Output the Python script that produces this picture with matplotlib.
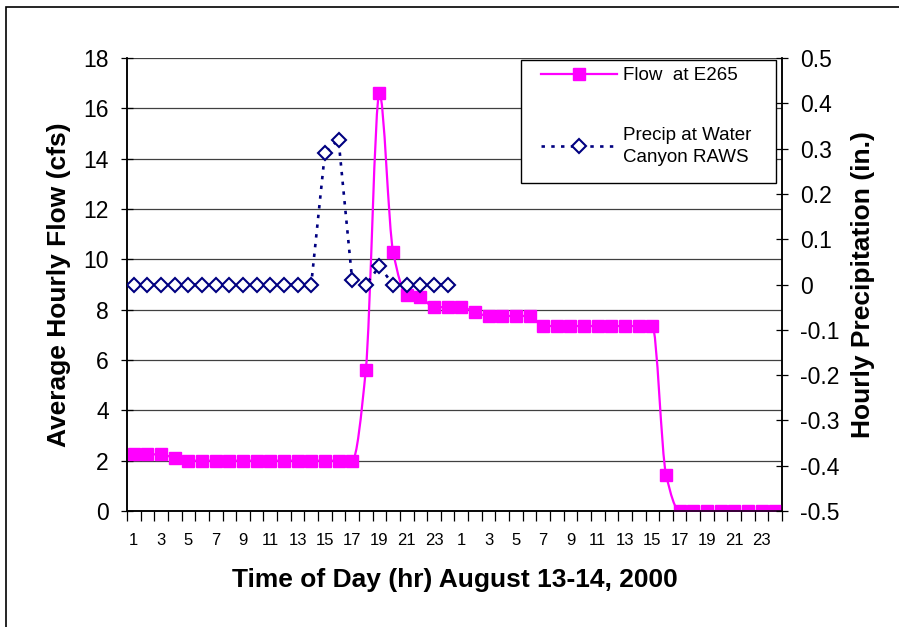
import matplotlib
matplotlib.use("Agg")
from matplotlib import pyplot as plt
from matplotlib.path import Path
from matplotlib.patches import PathPatch, Rectangle
from matplotlib.lines import Line2D

plt.rcParams['font.family'] = ['Liberation Sans', 'DejaVu Sans']

# hours of Aug 13 then Aug 14
hours = list(range(1, 25)) + list(range(1, 25))

# average hourly flow at E265 (cfs), one value per hour over both days
flow = [2.25, 2.25, 2.25, 2.1,
        2.0, 2.0, 2.0, 2.0, 2.0, 2.0, 2.0, 2.0, 2.0, 2.0, 2.0, 2.0, 2.0,
        5.6, 16.6, 10.3, 8.6, 8.5, 8.1, 8.1, 8.1, 7.9,
        7.75, 7.75, 7.75, 7.75,
        7.35, 7.35, 7.35, 7.35, 7.35, 7.35, 7.35, 7.35, 7.35,
        1.45, 0, 0, 0, 0, 0, 0, 0, 0]

# hourly precipitation at Water Canyon RAWS (in.), first day only
precip = [0, 0, 0, 0, 0, 0, 0, 0, 0, 0, 0, 0, 0, 0,
          0.29, 0.32, 0.01, 0, 0.04, 0, 0, 0, 0, 0]

x_flow = list(range(1, len(flow) + 1))
x_precip = list(range(1, len(precip) + 1))

FLOW_C = '#FF00FF'
PRECIP_C = '#000080'
DOTS = (0, (1.3, 2.4))

W, H = 899, 627
fig = plt.figure(figsize=(W / 100, H / 100), dpi=100)
ax = fig.add_axes([127/W, 1 - 511/H, 655/W, 453/H])
ax2 = ax.twinx()

# frame around the chart area
fig.patches.append(Rectangle((6/W, -0.1), 1.2, (1 - 7/H) + 0.1,
                             transform=fig.transFigure, fill=False,
                             edgecolor='black', lw=1.2))

# smoothed flow line: cubic bezier through the points, monotone tangents
n = len(flow)
sec = [flow[i + 1] - flow[i] for i in range(n - 1)]
tang = [sec[0]]
for i in range(1, n - 1):
    a, b = sec[i - 1], sec[i]
    tang.append(0.0 if a * b <= 0 else 2.0 / (1.0 / a + 1.0 / b))
tang.append(sec[-1])
verts = [(x_flow[0], flow[0])]
codes = [Path.MOVETO]
for i in range(n - 1):
    verts += [(x_flow[i] + 1/3, flow[i] + tang[i] / 3),
              (x_flow[i + 1] - 1/3, flow[i + 1] - tang[i + 1] / 3),
              (x_flow[i + 1], flow[i + 1])]
    codes += [Path.CURVE4] * 3
ax.add_patch(PathPatch(Path(verts, codes), facecolor='none',
                       edgecolor=FLOW_C, lw=1.6, zorder=3))
ax.plot(x_flow, flow, ls='none', marker='s', ms=8, color=FLOW_C, zorder=4)

ax2.plot(x_precip, precip, color=PRECIP_C, ls=DOTS, lw=1.9,
         marker='D', ms=7, mfc='white', mec=PRECIP_C, mew=1.5, zorder=3)

ax.set_xlim(0.5, len(flow) + 0.5)
ax.set_ylim(0, 18)
ax.set_yticks(range(0, 19, 2))
ax2.set_ylim(-0.5, 0.5)
p_ticks = [round(-0.5 + 0.1 * k, 1) for k in range(11)]
ax2.set_yticks(p_ticks)
ax2.set_yticklabels(['%g' % t if t != 0 else '0' for t in p_ticks])

ax.grid(True, axis='y', color='#404040', lw=0.9)
ax.set_axisbelow(True)

# category ticks between hours, labels every other hour
ax.set_xticks(x_flow[::2])
ax.set_xticklabels([str(h) for h in hours[::2]], fontsize=12)
ax.set_xticks([k + 0.5 for k in range(0, len(flow) + 1)], minor=True)
ax.tick_params(axis='x', which='major', length=0, pad=16)
ax.tick_params(axis='x', which='minor', length=7, direction='out', width=0.9)
ax.tick_params(axis='y', labelsize=16.5, direction='inout', length=8, width=0.9, pad=9)
ax2.tick_params(axis='y', labelsize=16.5, direction='inout', length=8, width=0.9, pad=9)

for a in (ax, ax2):
    a.spines['top'].set_visible(False)
    for s in ('left', 'right', 'bottom'):
        a.spines[s].set_linewidth(1.1)

ax.set_xlabel('Time of Day (hr) August 13-14, 2000', fontsize=19,
              fontweight='bold', labelpad=14)
ax.set_ylabel('Average Hourly Flow (cfs)', fontsize=19, fontweight='bold', labelpad=9)
ax2.set_ylabel('Hourly Precipitation (in.)', fontsize=19, fontweight='bold', labelpad=8)

# legend box drawn as its own rectangle, entries placed inside it
box = Rectangle((521/W, 1 - 183/H), 255/W, 123/H, transform=fig.transFigure,
                facecolor='white', edgecolor='black', lw=1.0, zorder=5,
                clip_on=False)
ax2.add_artist(box)
handles = [Line2D([], [], color=FLOW_C, lw=1.6, marker='s', ms=8),
           Line2D([], [], color=PRECIP_C, ls=DOTS, lw=1.9, marker='D',
                  ms=7, mfc='white', mec=PRECIP_C, mew=1.5)]
leg = ax2.legend(handles, ['Flow  at E265', 'Precip at Water\nCanyon RAWS'],
                 loc='upper left', bbox_to_anchor=(541/W, 1 - 67/H),
                 bbox_transform=fig.transFigure, borderaxespad=0,
                 borderpad=0, fontsize=13.5, frameon=False,
                 handlelength=4.05, handletextpad=0.32, labelspacing=2.3)
leg.set_zorder(6)
for t in leg.get_texts():
    t.set_linespacing(1.35)

fig.savefig('out.png', dpi=100)
